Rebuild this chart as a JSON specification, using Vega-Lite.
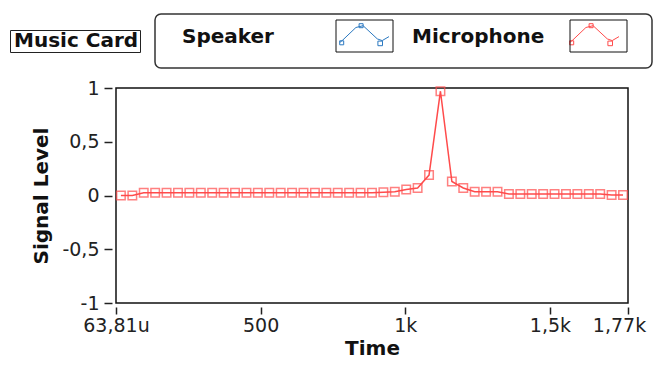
{
  "$schema": "https://vega.github.io/schema/vega-lite/v6.json",
  "width": 512,
  "height": 215,
  "autosize": {"type": "none"},
  "padding": {"left": 116, "top": 88, "right": 27, "bottom": 69},
  "background": "white",
  "config": {
    "view": {"stroke": "#111", "strokeWidth": 1.5},
    "axis": {
      "labelFont": "DejaVu Sans", "labelFontSize": 19, "labelColor": "#222",
      "titleFont": "DejaVu Sans", "titleFontSize": 20, "titleFontWeight": "bold", "titleColor": "#111",
      "tickColor": "#222", "tickWidth": 1.5, "grid": false, "domain": false
    },
    "legend": {"labelFont": "DejaVu Sans", "labelFontSize": 20, "labelFontWeight": "bold", "labelColor": "#111"}
  },
  "data": {
    "values": [
      {"s": "Microphone", "t": 17, "v": 0.0},
      {"s": "Microphone", "t": 56.5, "v": 0.0},
      {"s": "Microphone", "t": 95.9, "v": 0.025},
      {"s": "Microphone", "t": 135.4, "v": 0.025},
      {"s": "Microphone", "t": 174.8, "v": 0.025},
      {"s": "Microphone", "t": 214.3, "v": 0.025},
      {"s": "Microphone", "t": 253.7, "v": 0.025},
      {"s": "Microphone", "t": 293.2, "v": 0.025},
      {"s": "Microphone", "t": 332.6, "v": 0.025},
      {"s": "Microphone", "t": 372.1, "v": 0.025},
      {"s": "Microphone", "t": 411.5, "v": 0.025},
      {"s": "Microphone", "t": 451.0, "v": 0.025},
      {"s": "Microphone", "t": 490.4, "v": 0.025},
      {"s": "Microphone", "t": 529.9, "v": 0.025},
      {"s": "Microphone", "t": 569.3, "v": 0.025},
      {"s": "Microphone", "t": 608.8, "v": 0.025},
      {"s": "Microphone", "t": 648.2, "v": 0.025},
      {"s": "Microphone", "t": 687.7, "v": 0.025},
      {"s": "Microphone", "t": 727.1, "v": 0.025},
      {"s": "Microphone", "t": 766.6, "v": 0.025},
      {"s": "Microphone", "t": 806.0, "v": 0.025},
      {"s": "Microphone", "t": 845.5, "v": 0.025},
      {"s": "Microphone", "t": 884.9, "v": 0.025},
      {"s": "Microphone", "t": 924.4, "v": 0.03},
      {"s": "Microphone", "t": 963.8, "v": 0.035},
      {"s": "Microphone", "t": 1003.3, "v": 0.055},
      {"s": "Microphone", "t": 1042.7, "v": 0.07},
      {"s": "Microphone", "t": 1082.2, "v": 0.19},
      {"s": "Microphone", "t": 1121.6, "v": 0.97},
      {"s": "Microphone", "t": 1161.1, "v": 0.13},
      {"s": "Microphone", "t": 1200.5, "v": 0.07},
      {"s": "Microphone", "t": 1240.0, "v": 0.035},
      {"s": "Microphone", "t": 1279.4, "v": 0.035},
      {"s": "Microphone", "t": 1318.9, "v": 0.035},
      {"s": "Microphone", "t": 1358.3, "v": 0.015},
      {"s": "Microphone", "t": 1397.8, "v": 0.015},
      {"s": "Microphone", "t": 1437.2, "v": 0.015},
      {"s": "Microphone", "t": 1476.7, "v": 0.015},
      {"s": "Microphone", "t": 1516.1, "v": 0.015},
      {"s": "Microphone", "t": 1555.6, "v": 0.015},
      {"s": "Microphone", "t": 1595.0, "v": 0.015},
      {"s": "Microphone", "t": 1634.5, "v": 0.015},
      {"s": "Microphone", "t": 1673.9, "v": 0.015},
      {"s": "Microphone", "t": 1713.4, "v": 0.005},
      {"s": "Microphone", "t": 1752.8, "v": 0.005}
    ]
  },
  "encoding": {
    "x": {
      "field": "t", "type": "quantitative",
      "scale": {"domain": [0, 1770], "nice": false, "zero": false},
      "axis": {
        "values": [0, 500, 1000, 1500, 1770],
        "labelExpr": "datum.value == 0 ? '63,81u' : datum.value == 500 ? '500' : datum.value == 1000 ? '1k' : datum.value == 1500 ? '1,5k' : '1,77k'",
        "labelFlush": false, "labelOverlap": false, "labelBound": false,
        "offset": 4, "tickSize": 7, "labelPadding": 2,
        "labelOffset": {"condition": {"test": "datum.value == 1770", "value": -9}, "value": 0},
        "title": "Time", "titlePadding": 3
      }
    },
    "y": {
      "field": "v", "type": "quantitative",
      "scale": {"domain": [-1, 1], "nice": false},
      "axis": {
        "values": [-1, -0.5, 0, 0.5, 1],
        "labelExpr": "datum.value == 1 ? '1' : datum.value == 0.5 ? '0,5' : datum.value == 0 ? '0' : datum.value == -0.5 ? '-0,5' : '-1'",
        "offset": 4, "tickSize": 8, "labelPadding": 5,
        "title": "Signal Level", "titlePadding": 10
      }
    },
    "color": {
      "field": "s", "type": "nominal",
      "scale": {"domain": ["Speaker", "Microphone"], "range": ["#2a78c0", "#ff4b4b"]},
      "legend": {
        "orient": "none", "legendX": 39, "legendY": -74, "direction": "horizontal",
        "title": " ", "titleOrient": "right", "titlePadding": 25, "titleFontSize": 20,
        "padding": 6, "strokeColor": "#333", "cornerRadius": 6, "fillColor": "white",
        "symbolType": "M-2.45,1.18L-2.17,0.95L-0.86,-0.3L-0.14,-0.48L1.28,0.84L1.77,1.01L2.45,0.61M-2.48,1.03h0.4v0.4h-0.4zM-0.54,-0.68h0.4v0.4h-0.4zM1.34,1.06h0.46v0.46h-0.46zM0,2.95",
        "symbolSize": 400, "symbolStrokeWidth": 1, "symbolFillColor": "transparent",
        "labelOffset": -193, "symbolOffset": 193, "columnPadding": 0,
        "encode": {
          "legend": {"update": {"strokeWidth": {"value": 1.5}}},
          "labels": {"update": {"dy": {"value": 6}}}
        }
      }
    }
  },
  "layer": [
    {
      "mark": {"type": "line", "strokeWidth": 1.5},
      "encoding": {
        "opacity": {
          "field": "s", "type": "nominal",
          "scale": {"domain": ["Speaker", "Microphone", "~"], "range": [1, 1, 1]},
          "legend": {
            "orient": "none", "legendX": 39, "legendY": -74, "direction": "horizontal", "title": null,
            "values": ["Speaker", "Microphone"],
            "padding": 6, "symbolType": "M-2.85,-1.05H2.85V2.15H-2.85ZM0,2.95",
            "symbolSize": 400, "symbolStrokeWidth": 1, "symbolStrokeColor": "#111", "symbolFillColor": "transparent",
            "labelExpr": "''", "labelOffset": -193, "symbolOffset": 193, "columnPadding": 0
          }
        }
      }
    },
    {
      "mark": {"type": "point", "filled": false, "size": 72, "strokeWidth": 1.5},
      "encoding": {
        "shape": {
          "datum": "Music Card",
          "scale": {"range": ["square"]},
          "legend": {
            "orient": "none", "legendX": -106, "legendY": -58, "title": null,
            "padding": 1, "strokeColor": "#222", "fillColor": "white",
            "symbolSize": 0, "symbolOpacity": 0, "labelOffset": -17,
            "encode": {"legend": {"update": {"strokeWidth": {"value": 2}}}}
          }
        }
      }
    }
  ]
}
